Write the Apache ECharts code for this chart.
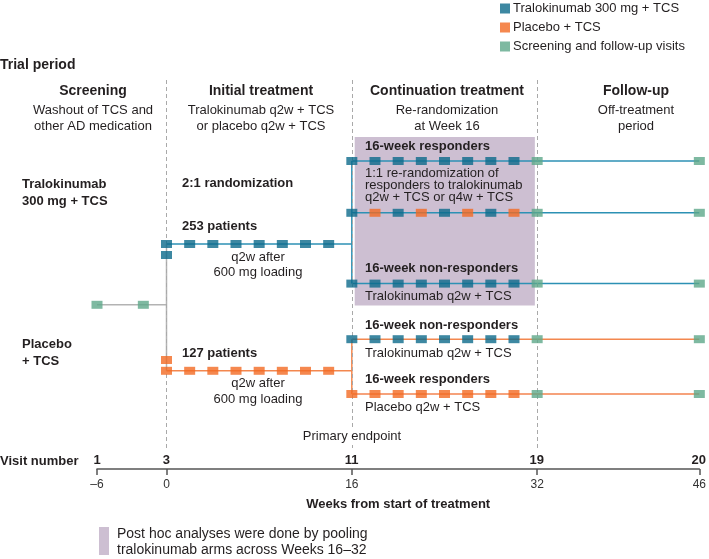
<!DOCTYPE html>
<html>
<head>
<meta charset="utf-8">
<script src="https://cdn.jsdelivr.net/npm/echarts@6/dist/echarts.min.js"></script>
<style>
html,body{margin:0;padding:0;background:#fff;}
#chart{width:709px;height:559px;}
</style>
</head>
<body>
<div id="chart"></div>
<script>
// ---- data ----
const weekTicks = [-6, 0, 16, 32, 46];
const visitNumbers = [1, 3, 11, 19, 20];
const screeningVisitWeeks = [-6, -2];
const initialDoseWeeks = [0, 2, 4, 6, 8, 10, 12, 14];
const loadingDoseWeeks = [0];
const continuationDoseWeeks = [16, 18, 20, 22, 24, 26, 28, 30];
const q4wActiveWeeks = [16, 20, 24, 28];
const q4wPlaceboWeeks = [18, 22, 26, 30];
const followUpVisitWeeks = [32, 46];
const phaseBoundaryWeeks = [0, 16, 32];
const postHocWindow = [16, 32];
const initialPhase = [0, 16];
const continuationSpan = [16, 46];
const screeningSpan = [-6, 0];

// schematic lanes (row levels in lane units, top to bottom)
const laneRespQ2w = 20.25;
const laneRespQ4w = 33.2;
const laneTraloInitial = 41;
const laneTraloLoading = 43.75;
const laneTraloNonResp = 50.9;
const laneScreening = 56.2;
const lanePlaceboNonResp = 64.8;
const lanePlaceboLoading = 70;
const lanePlaceboInitial = 72.7;
const lanePlaceboResp = 78.5;

// ---- styles ----
const FONT = '"Liberation Sans", Arial, sans-serif';
const BLUE = '#0d6a8b', BLUE_LINE = '#2c91b4';
const ORANGE = '#f26a23', ORANGE_LINE = '#f3874f', ORANGE_LIGHT = '#f6a27b';
const GREEN = '#5ea88a', GRAY_LINE = '#b3b3b3', BOX = '#cdbfd2', INK = '#231f20';

const pts = (weeks, lane) => weeks.map(w => [w, lane]);
const seg = (name, data, color, w) => ({
  type: 'line', name, data, symbol: 'none', silent: true, z: 3,
  lineStyle: { color, width: w || 1.5 }, animation: false
});

const chart = echarts.init(document.getElementById('chart'), null, { renderer: 'canvas' });

const TRALO = 'Tralokinumab 300 mg + TCS', PLAC = 'Placebo + TCS', VIS = 'Screening and follow-up visits';

const traloMarks = [].concat(
  pts(initialDoseWeeks, laneTraloInitial), pts(loadingDoseWeeks, laneTraloLoading),
  pts(continuationDoseWeeks, laneRespQ2w), pts(q4wActiveWeeks, laneRespQ4w),
  pts(continuationDoseWeeks, laneTraloNonResp), pts(continuationDoseWeeks, lanePlaceboNonResp));
const placeboMarks = [].concat(
  pts(initialDoseWeeks, lanePlaceboInitial), pts(loadingDoseWeeks, lanePlaceboLoading),
  pts(q4wPlaceboWeeks, laneRespQ4w), pts(continuationDoseWeeks, lanePlaceboResp));
const visitMarks = [].concat(
  pts(screeningVisitWeeks, laneScreening),
  pts(followUpVisitWeeks, laneRespQ2w), pts(followUpVisitWeeks, laneRespQ4w),
  pts(followUpVisitWeeks, laneTraloNonResp), pts(followUpVisitWeeks, lanePlaceboNonResp),
  pts(followUpVisitWeeks, lanePlaceboResp));

const SYM = [11, 8];
const visitOf = v => visitNumbers[weekTicks.indexOf(v)];

function T(x, y, text, o) {
  o = o || {};
  return {
    type: 'text', x, y, z: 50,
    style: Object.assign({
      text, fill: INK, fontFamily: FONT, fontSize: o.size || 13,
      fontWeight: o.bold ? 'bold' : 'normal',
      align: o.align || 'left', verticalAlign: 'middle',
      lineHeight: o.lh || 16
    }, o.extra || {})
  };
}

const GRID = { left: 97, right: 7, top: 80, height: 389 };

const option = {
  animation: false,
  backgroundColor: '#fff',
  textStyle: { fontFamily: FONT },
  legend: {
    orient: 'vertical', left: 500, top: 2, padding: 0, itemWidth: 10, itemHeight: 10, itemGap: 6,
    icon: 'rect', selectedMode: false,
    textStyle: { fontSize: 13, color: INK, fontFamily: FONT, padding: [0, 0, 0, -2] },
    data: [TRALO, PLAC, VIS]
  },
  grid: [Object.assign({}, GRID), Object.assign({}, GRID)],
  xAxis: [{
    gridIndex: 0, type: 'value', min: -6, max: 46, position: 'bottom',
    splitLine: { show: false },
    axisLine: { show: true, onZero: false, lineStyle: { color: '#555', width: 1.5 } },
    axisTick: { show: true, customValues: weekTicks, length: 6, lineStyle: { color: '#555', width: 1.5 } },
    axisLabel: { customValues: weekTicks, color: '#333', fontSize: 12, margin: 10, fontFamily: FONT,
      formatter: v => v < 0 ? '\u2013' + Math.abs(v) : String(v) },
    name: 'Weeks from start of treatment', nameLocation: 'middle', nameGap: 29,
    nameTextStyle: { fontWeight: 'bold', fontSize: 13, color: INK, fontFamily: FONT }
  }, {
    gridIndex: 1, type: 'value', min: -6, max: 46, position: 'bottom',
    splitLine: { show: false }, axisLine: { show: false, onZero: false }, axisTick: { show: false },
    axisLabel: { inside: true, customValues: weekTicks, margin: 2, fontWeight: 'bold', fontSize: 13,
      color: INK, fontFamily: FONT, formatter: v => String(visitOf(v)) }
  }],
  yAxis: [
    { gridIndex: 0, type: 'value', inverse: true, min: 0, max: 97.25, show: false },
    { gridIndex: 1, type: 'value', inverse: true, min: 0, max: 97.25, show: false }
  ],
  graphic: [
    T(0, 65, 'Trial period', { bold: true, size: 14 }),
    T(93, 91, 'Screening', { bold: true, size: 14, align: 'center' }),
    T(261, 91, 'Initial treatment', { bold: true, size: 14, align: 'center' }),
    T(447, 91, 'Continuation treatment', { bold: true, size: 14, align: 'center' }),
    T(636, 91, 'Follow-up', { bold: true, size: 14, align: 'center' }),
    T(93, 118, 'Washout of TCS and\nother AD medication', { align: 'center' }),
    T(261, 118, 'Tralokinumab q2w + TCS\nor placebo q2w + TCS', { align: 'center' }),
    T(447, 118, 'Re-randomization\nat Week 16', { align: 'center' }),
    T(636, 118, 'Off-treatment\nperiod', { align: 'center' }),
    T(22, 192.5, 'Tralokinumab\n300 mg + TCS', { bold: true, lh: 17 }),
    T(22, 352.5, 'Placebo\n+ TCS', { bold: true, lh: 17 }),
    T(182, 183, '2:1 randomization', { bold: true }),
    T(182, 226, '253 patients', { bold: true }),
    T(258, 264.5, 'q2w after\n600 mg loading', { align: 'center', lh: 15 }),
    T(182, 353, '127 patients', { bold: true }),
    T(258, 391, 'q2w after\n600 mg loading', { align: 'center', lh: 16 }),
    T(352, 436, 'Primary endpoint', { align: 'center', extra: { backgroundColor: '#fff', padding: [1, 1] } }),
    T(365, 146, '16-week responders', { bold: true }),
    T(365, 185, '1:1 re-randomization of\nresponders to tralokinumab\nq2w + TCS or q4w + TCS', { lh: 12 }),
    T(365, 268, '16-week non-responders', { bold: true }),
    T(365, 296, 'Tralokinumab q2w + TCS'),
    T(365, 325, '16-week non-responders', { bold: true }),
    T(365, 353, 'Tralokinumab q2w + TCS'),
    T(365, 379, '16-week responders', { bold: true }),
    T(365, 407, 'Placebo q2w + TCS'),
    T(0, 461, 'Visit number', { bold: true }),
    { type: 'rect', shape: { x: 99, y: 527, width: 10, height: 28 }, style: { fill: BOX }, z: 50 },
    T(117, 542, 'Post hoc analyses were done by pooling\ntralokinumab arms across Weeks 16\u201332', { size: 14, lh: 16 })
  ],
  series: [
    {
      type: 'line', name: 'frame', data: [], silent: true, z: 1,
      markArea: {
        silent: true, itemStyle: { color: BOX, opacity: 1 },
        data: [[{ coord: [postHocWindow[0] + 0.25, laneRespQ2w - 6] }, { coord: [postHocWindow[1] - 0.2, laneTraloNonResp + 5.5] }]]
      },
      markLine: {
        silent: true, symbol: 'none', label: { show: false },
        lineStyle: { color: '#a9a9a9', type: [4, 3], width: 1 },
        data: phaseBoundaryWeeks.map(w => [{ coord: [w, 0] }, { coord: [w, 92.5] }])
      }
    },
    seg('screen-h', pts(screeningSpan, laneScreening), GRAY_LINE),
    seg('rand-v', [[0, laneTraloInitial], [0, lanePlaceboInitial]], GRAY_LINE),
    seg('tralo-init', pts(initialPhase, laneTraloInitial), BLUE_LINE),
    seg('tralo-v', [[16, laneRespQ2w], [16, laneTraloNonResp]], BLUE_LINE),
    seg('rowA', pts(continuationSpan, laneRespQ2w), BLUE_LINE),
    seg('rowB', pts(continuationSpan, laneRespQ4w), BLUE_LINE),
    seg('rowC', pts(continuationSpan, laneTraloNonResp), BLUE_LINE),
    seg('plac-init', pts(initialPhase, lanePlaceboInitial), ORANGE_LINE),
    seg('plac-v', [[16, lanePlaceboNonResp], [16, lanePlaceboResp]], ORANGE_LINE),
    seg('rowD', pts(continuationSpan, lanePlaceboNonResp), ORANGE_LINE),
    seg('rowE', pts(continuationSpan, lanePlaceboResp), ORANGE_LIGHT, 2),
    { type: 'scatter', name: TRALO, data: traloMarks, symbol: 'rect', symbolSize: SYM, z: 5,
      itemStyle: { color: BLUE }, silent: true },
    { type: 'scatter', name: PLAC, data: placeboMarks, symbol: 'rect', symbolSize: SYM, z: 5,
      itemStyle: { color: ORANGE }, silent: true },
    { type: 'scatter', name: VIS, data: visitMarks, symbol: 'rect', symbolSize: SYM, z: 5,
      itemStyle: { color: GREEN }, silent: true }
  ]
};
chart.setOption(option);
</script>
</body>
</html>
